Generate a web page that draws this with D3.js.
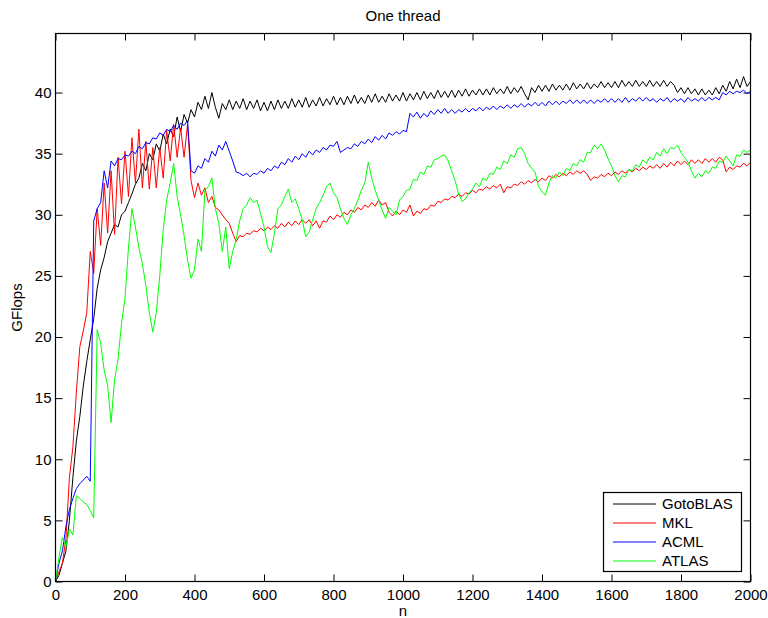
<!DOCTYPE html>
<html><head><meta charset="utf-8">
<script src="https://cdn.jsdelivr.net/npm/d3@7"></script>
<style>
body{margin:0;background:#fff}
svg{display:block}
text{font-family:"Liberation Sans",Arial,Helvetica,sans-serif;fill:#000}
</style>
</head><body>
<svg id="chart" width="768" height="618"></svg>
<script>
// problem sizes n (x axis), sampled every 10
const nValues = d3.range(0, 2001, 10);

const gotoVals = [
0, 0.5, 1.5, 2.5, 5.0, 8.5, 11.5, 13.5, 16.0, 18.0,
19.8, 21.5, 24.0, 25.5, 26.5, 27.8, 28.5, 29.2, 29.0, 30.0,
30.3, 31.0, 31.7, 32.5, 33.0, 34.2, 33.6, 35.0, 34.5, 35.8,
35.2, 36.6, 35.8, 37.0, 36.4, 38.0, 36.8, 38.2, 37.5, 38.6,
38.0, 39.2, 38.6, 39.7, 38.7, 40.0, 38.8, 37.9, 39.1, 38.6,
39.4, 38.6, 39.3, 38.7, 39.5, 38.6, 39.3, 38.7, 39.4, 38.5,
39.2, 38.5, 39.3, 38.6, 39.4, 38.7, 39.3, 38.7, 39.5, 38.8,
39.4, 38.8, 39.6, 38.8, 39.4, 38.9, 39.6, 38.9, 39.5, 39.0,
39.7, 39.0, 39.6, 39.0, 39.7, 39.1, 39.8, 39.1, 39.6, 39.1,
39.8, 39.2, 39.9, 39.2, 39.7, 39.2, 39.9, 39.3, 39.8, 39.3,
40.0, 39.3, 39.9, 39.4, 40.0, 39.4, 40.1, 39.5, 40.0, 39.5,
40.2, 39.6, 40.1, 39.6, 40.2, 39.6, 40.2, 39.7, 40.3, 39.7,
40.2, 39.8, 40.3, 39.8, 40.3, 39.8, 40.4, 39.9, 40.3, 39.9,
40.5, 39.9, 40.4, 40.0, 40.5, 39.9, 39.4, 40.4, 40.0, 40.6,
40.1, 40.6, 40.1, 40.7, 40.2, 40.6, 40.2, 40.7, 40.2, 40.8,
40.3, 40.7, 40.3, 40.8, 40.3, 40.7, 40.4, 40.9, 40.4, 40.8,
40.4, 40.9, 40.4, 41.0, 40.5, 40.9, 40.5, 41.0, 40.5, 40.9,
40.5, 41.0, 40.5, 40.9, 40.5, 41.0, 40.5, 40.9, 40.6, 40.0,
40.4, 39.9, 40.4, 39.9, 40.3, 39.8, 40.3, 39.8, 40.2, 39.8,
40.4, 39.9, 40.6, 40.1, 40.9, 40.3, 41.1, 40.4, 41.3, 40.5,
40.9];

const mklVals = [
0, 0.8, 1.5, 3.5, 8.5, 11.0, 15.5, 19.2, 20.5, 22.0,
27.0, 25.2, 30.5, 27.5, 32.6, 28.5, 33.6, 28.4, 34.7, 30.9,
35.2, 31.5, 36.3, 32.6, 37.0, 32.2, 36.0, 32.1, 35.5, 32.2,
35.5, 33.0, 36.9, 34.4, 37.4, 34.7, 37.1, 34.7, 37.4, 32.8,
31.4, 32.6, 31.6, 32.2, 31.0, 31.5, 30.6, 30.4, 30.0, 29.6,
29.3, 28.5, 27.8, 28.3, 28.2, 28.5, 28.4, 28.7, 28.6, 28.9,
28.7, 29.0, 28.8, 29.1, 28.9, 29.3, 29.0, 29.4, 29.1, 29.5,
29.2, 29.6, 29.3, 29.6, 29.1, 29.5, 28.9, 29.5, 29.4, 29.9,
29.6, 30.0, 29.8, 30.2, 30.0, 30.4, 30.2, 30.6, 30.4, 30.8,
30.6, 31.0, 30.7, 31.2, 30.8, 31.0, 30.2, 29.9, 30.3, 30.0,
30.4, 30.2, 30.8, 29.9, 30.3, 30.1, 30.5, 30.4, 30.8, 30.7,
31.1, 31.0, 31.3, 31.2, 31.5, 31.4, 31.7, 31.5, 31.8, 31.7,
32.0, 31.8, 32.1, 32.0, 32.3, 32.1, 32.4, 32.2, 32.5, 31.8,
32.3, 32.2, 32.5, 32.4, 32.7, 32.5, 32.8, 32.6, 32.9, 32.7,
33.0, 32.8, 33.2, 33.0, 33.3, 33.1, 33.4, 33.2, 33.5, 33.3,
33.6, 33.4, 33.6, 33.3, 32.8, 33.1, 33.0, 33.3, 33.1, 33.4,
33.2, 33.5, 33.3, 33.6, 33.4, 33.7, 33.5, 33.8, 33.6, 33.9,
33.7, 34.0, 33.8, 34.1, 33.8, 34.2, 33.9, 34.3, 34.0, 34.4,
34.1, 34.4, 34.1, 34.5, 34.2, 34.5, 34.2, 34.6, 34.3, 34.6,
34.3, 34.7, 34.5, 33.5, 33.9, 33.7, 34.0, 33.9, 34.2, 34.0,
34.3];

const acmlVals = [
0, 1.5, 2.5, 4.5, 5.9, 6.8, 7.6, 8.0, 8.3, 8.6,
8.2, 29.5, 30.5, 31.0, 33.6, 32.2, 34.4, 34.0, 34.6, 34.5,
34.9, 34.8, 35.2, 35.0, 35.6, 35.4, 35.9, 35.8, 36.3, 36.2,
36.7, 36.5, 37.0, 36.8, 37.3, 37.0, 37.5, 37.3, 37.7, 33.6,
33.4, 34.0, 33.8, 34.6, 34.3, 35.2, 34.8, 35.7, 35.3, 36.0,
35.2, 34.4, 33.5, 33.4, 33.2, 33.4, 33.1, 33.4, 33.3, 33.6,
33.4, 33.8, 33.6, 34.0, 33.8, 34.3, 34.1, 34.6, 34.3, 34.8,
34.5, 35.0, 34.7, 35.2, 34.9, 35.3, 35.1, 35.5, 35.3, 35.7,
35.6, 36.0, 35.1, 35.3, 35.5, 35.4, 35.8, 35.6, 36.0, 35.8,
36.2, 35.9, 36.4, 36.1, 36.5, 36.2, 36.7, 36.5, 36.8, 36.6,
36.9, 36.8, 38.3, 38.0, 38.4, 37.9, 38.3, 38.0, 38.5, 38.2,
38.6, 38.3, 38.7, 38.3, 38.6, 38.3, 38.6, 38.4, 38.7, 38.4,
38.7, 38.5, 38.8, 38.5, 38.8, 38.6, 38.9, 38.6, 38.9, 38.7,
39.0, 38.7, 39.0, 38.8, 39.1, 38.8, 39.1, 38.9, 39.2, 38.9,
39.2, 38.9, 39.3, 39.0, 39.3, 39.0, 39.3, 39.1, 39.4, 39.1,
39.4, 39.1, 39.4, 39.1, 39.4, 39.1, 39.4, 39.2, 39.5, 39.2,
39.5, 39.2, 39.5, 39.2, 39.6, 39.2, 39.5, 39.3, 39.6, 39.3,
39.6, 39.3, 39.5, 39.2, 39.5, 39.3, 39.6, 39.2, 39.5, 39.3,
39.5, 39.2, 39.6, 39.3, 39.5, 39.3, 39.6, 39.3, 39.6, 39.4,
39.6, 39.4, 40.0, 39.8, 40.1, 39.9, 40.1, 40.0, 40.2, 39.9,
40.1];

const atlasVals = [
0, 2.0, 3.6, 2.8, 4.3, 3.8, 7.0, 6.8, 6.5, 6.3,
5.8, 5.2, 20.6, 19.5, 17.3, 16.0, 13.0, 16.5, 18.2, 21.1,
23.2, 27.3, 30.5, 29.0, 27.3, 26.0, 24.2, 22.0, 20.4, 22.0,
25.0, 28.8, 31.2, 32.6, 34.2, 31.5, 30.0, 28.3, 26.3, 24.8,
25.5, 28.0, 27.0, 32.0, 32.3, 33.0, 30.5, 29.3, 27.0, 29.0,
25.6, 27.0, 28.0, 29.5, 30.5, 30.8, 31.4, 31.0, 31.2, 30.1,
29.0, 27.4, 26.9, 28.5, 30.5, 30.8, 31.5, 32.1, 31.0, 31.3,
30.5, 29.6, 28.2, 28.6, 29.6, 30.5, 31.0, 31.6, 32.3, 32.6,
31.8, 31.4, 30.5, 29.7, 29.2, 30.0, 30.5, 31.2, 32.0, 32.6,
34.3, 33.0, 32.0, 31.2, 30.4, 29.7, 30.6, 30.3, 30.0, 31.2,
31.5, 32.0, 32.1, 32.9, 32.8, 33.5, 33.3, 34.0, 33.9, 34.5,
34.6, 34.8, 34.9, 34.4, 33.6, 32.8, 31.7, 31.1, 31.3, 31.8,
32.1, 32.6, 32.3, 33.0, 32.8, 33.4, 33.3, 33.9, 33.7, 34.4,
34.2, 34.9, 34.7, 35.4, 35.5, 35.0, 34.2, 33.8, 33.5, 32.3,
31.9, 31.6, 32.6, 33.2, 33.0, 33.5, 33.2, 33.8, 33.6, 34.2,
34.0, 34.5, 34.3, 35.1, 35.1, 35.7, 35.4, 35.8, 35.3, 34.6,
34.0, 33.2, 32.7, 33.2, 33.1, 33.7, 33.6, 34.1, 33.9, 34.5,
34.2, 34.7, 34.5, 35.1, 34.8, 35.4, 35.0, 35.5, 35.4, 35.7,
35.1, 34.7, 34.3, 33.6, 33.0, 33.4, 33.1, 33.6, 33.4, 33.9,
33.8, 34.4, 34.3, 34.8, 34.4, 34.0, 34.9, 34.8, 35.3, 35.1,
35.3];

const seriesNames = ["GotoBLAS", "MKL", "ACML", "ATLAS"];
const seriesValues = [gotoVals, mklVals, acmlVals, atlasVals];
const seriesColors = ["#000000", "#ff0000", "#0000ff", "#00ff00"];
const xTickValues = [0, 200, 400, 600, 800, 1000, 1200, 1400, 1600, 1800, 2000];
const yTickValues = [0, 5, 10, 15, 20, 25, 30, 35, 40];
const titleText = "One thread";
const xLabel = "n";
const yLabel = "GFlops";

const L = 55.5, R = 750.5, T = 33.5, B = 581.5;
const svg = d3.select("#chart");
const x = d3.scaleLinear().domain([0, 2000]).range([L, R]);
const y = d3.scaleLinear().domain([0, 44.83]).range([B, T]);

svg.append("defs").append("clipPath").attr("id", "clip")
  .append("rect").attr("x", L).attr("y", T).attr("width", R - L).attr("height", B - T);

const fs = 15;
// axes with inward ticks on all four sides
const gx = svg.append("g").attr("transform", `translate(0,${B})`)
  .call(d3.axisBottom(x).tickValues(xTickValues).tickSize(-7).tickSizeOuter(0).tickPadding(8).tickFormat(d3.format("d")));
const gxt = svg.append("g").attr("transform", `translate(0,${T})`)
  .call(d3.axisTop(x).tickValues(xTickValues).tickSize(-7).tickSizeOuter(0).tickFormat(""));
const gy = svg.append("g").attr("transform", `translate(${L},0)`)
  .call(d3.axisLeft(y).tickValues(yTickValues).tickSize(-7).tickSizeOuter(0).tickPadding(4));
const gyr = svg.append("g").attr("transform", `translate(${R},0)`)
  .call(d3.axisRight(y).tickValues(yTickValues).tickSize(-7).tickSizeOuter(0).tickFormat(""));
[gx, gxt, gy, gyr].forEach(g => {
  g.select(".domain").remove();
  g.selectAll(".tick line").attr("stroke", "#000").attr("stroke-width", 1);
  g.selectAll("text").attr("font-size", fs).attr("font-family", '"Liberation Sans",Arial,sans-serif').attr("fill", "#000");
});

// series
const line = d3.line().x((d, i) => x(nValues[i])).y(d => y(d));
const plot = svg.append("g").attr("clip-path", "url(#clip)");
seriesValues.forEach((vals, k) => {
  plot.append("path").datum(vals)
    .attr("fill", "none").attr("stroke", seriesColors[k])
    .attr("stroke-width", 1).attr("stroke-linejoin", "round")
    .attr("d", line);
});

// frame
svg.append("rect").attr("x", L).attr("y", T).attr("width", R - L).attr("height", B - T)
  .attr("fill", "none").attr("stroke", "#000").attr("stroke-width", 1.2);

// title & labels
svg.append("text").attr("x", (L + R) / 2).attr("y", 21).attr("text-anchor", "middle")
  .attr("font-size", fs).text(titleText);
svg.append("text").attr("x", (L + R) / 2).attr("y", 616).attr("text-anchor", "middle")
  .attr("font-size", fs).text(xLabel);
svg.append("text").attr("transform", `translate(22,${(T + B) / 2}) rotate(-90)`)
  .attr("text-anchor", "middle").attr("font-size", fs).text(yLabel);

// legend
const lg = svg.append("g");
lg.append("rect").attr("x", 603.5).attr("y", 492.5).attr("width", 138).attr("height", 79)
  .attr("fill", "#fff").attr("stroke", "#000").attr("stroke-width", 1.2);
seriesNames.forEach((name, k) => {
  const yy = 504 + k * 19;
  lg.append("line").attr("x1", 613).attr("x2", 656).attr("y1", yy).attr("y2", yy)
    .attr("stroke", seriesColors[k]).attr("stroke-width", 1);
  lg.append("text").attr("x", 662).attr("y", yy).attr("dy", "0.35em")
    .attr("font-size", fs).text(name);
});
</script>
</body></html>
